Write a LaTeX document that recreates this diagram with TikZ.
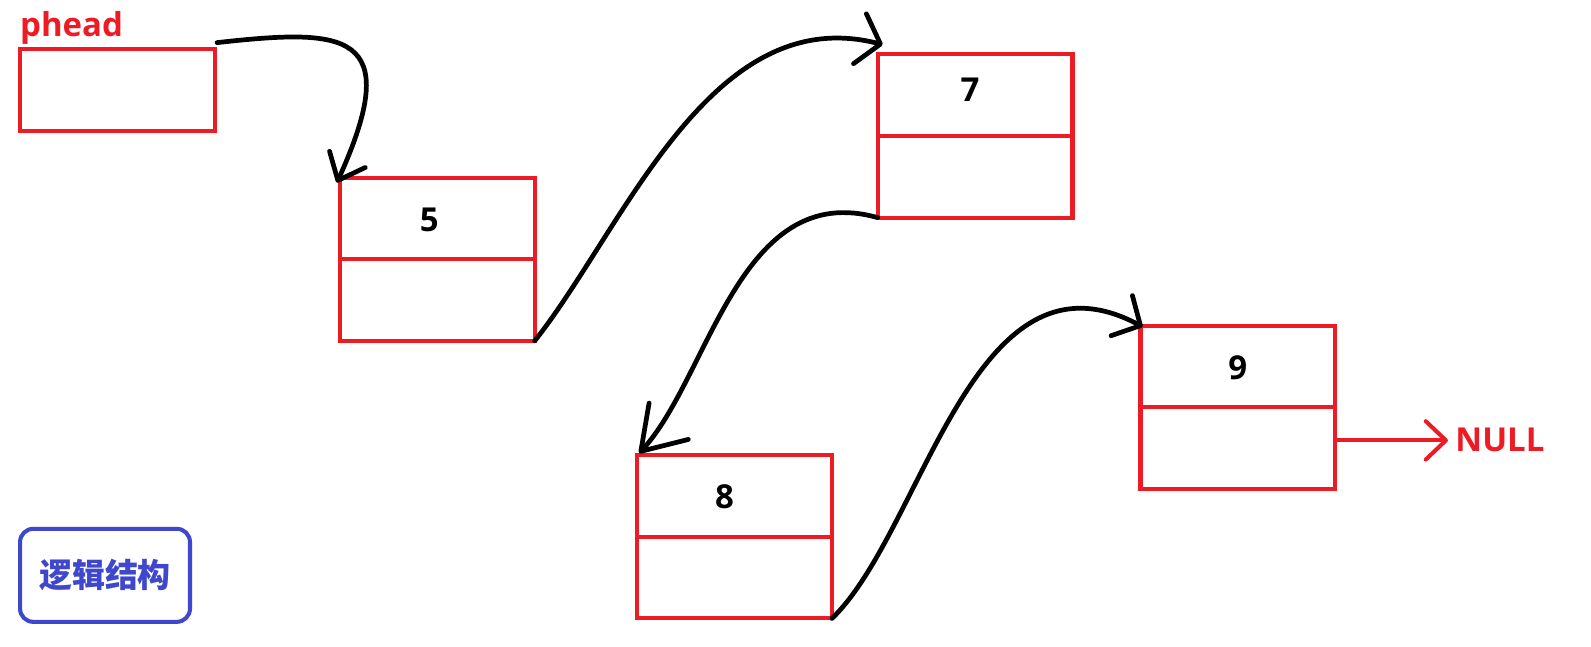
\documentclass[tikz,border=0pt]{standalone}
\usepackage{fontspec}
\setmainfont{Open Sans}
\newfontfamily\cjk{Noto Sans CJK SC}
\usetikzlibrary{arrows.meta,calc}
\definecolor{pred}{RGB}{237,28,36}
\definecolor{pblue}{RGB}{63,72,204}
\begin{document}
\begin{tikzpicture}[x=0.02cm,y=-0.02cm,
  cell/.style={draw=pred,line width=2.27pt,rectangle,minimum width=3.84cm,minimum height=1.61cm,inner sep=0pt,outer sep=0pt,anchor=north west},
  num/.style={font=\bfseries\fontsize{18.5}{20}\selectfont,inner sep=0pt,text=black},
  redtext/.style={font=\bfseries\fontsize{18.5}{20}\selectfont,text=pred},
  link/.style={draw=black,line width=2.65pt,line cap=round,line join=round},
  nulllink/.style={draw=pred,line width=2.27pt,line cap=round,line join=round,-{Straight Barb[length=11.3pt,width=21.5pt,round]}}
]
\useasboundingbox[fill=white] (0,0) rectangle (1568,637);

% head pointer
\node[cell,minimum height=1.62cm] (ph) at (20,48) {};
\node[redtext,anchor=base west,inner sep=0pt] (phl) at (19.5,35.5) {phead};

% list nodes
\node[cell] (d5) at (335,175) {};
\node[cell] (p5) at (d5.south west) {};
\node[cell] (d7) at (865,53.5) {};
\node[cell] (p7) at (d7.south west) {};
\node[cell] (d8) at (628,448.5) {};
\node[cell] (p8) at (d8.south west) {};
\node[cell] (d9) at (1124,321) {};
\node[cell] (p9) at (d9.south west) {};

\node[num] (t5) at ($(d5.center)+(-8,1)$) {5};
\node[num] (t7) at ($(d7.center)+(-5,-5)$) {7};
\node[num] (t8) at ($(d8.center)+(-10,1)$) {8};
\node[num] (t9) at ($(d9.center)+(0,1)$) {9};

% NULL
\node[redtext,anchor=west,inner xsep=4pt,inner ysep=0pt] (nul) at (1427,434) {NULL};
\draw[nulllink] (p9.east |- nul.west) -- (nul.west);

% links
\draw[link,-{Straight Barb[length=13pt,width=22pt,round]}]
  ($(ph.north east)+(2,-6)$) .. controls (340,28) and (400,30) .. ($(d5.north west)+(-3,5)$);
\draw[link,-{Straight Barb[length=11.9pt,width=28.9pt,round]}]
  (p5.south east) .. controls (615,225) and (700,0) .. ($(d7.north west)+(5,-9.5)$);
\draw[link,-{Straight Barb[length=23pt,width=30pt,round]}]
  (p7.south west) .. controls (729,176) and (699,372) .. ($(d8.north west)+(2,-2)$);
\draw[link,-{Straight Barb[length=11.9pt,width=25.5pt,round]}]
  (p8.south east) .. controls (910,523) and (959,233) .. ($(d9.north west)+(2,1)$);

% legend box
\node[draw=pblue,line width=2.27pt,rounded corners=0.26cm,minimum width=3.35cm,minimum height=1.834cm,inner sep=0pt,text=pblue,font=\cjk\bfseries\fontsize{18.5}{20}\selectfont] (lg) at (103.5,567) {逻辑结构};
\end{tikzpicture}
\end{document}
